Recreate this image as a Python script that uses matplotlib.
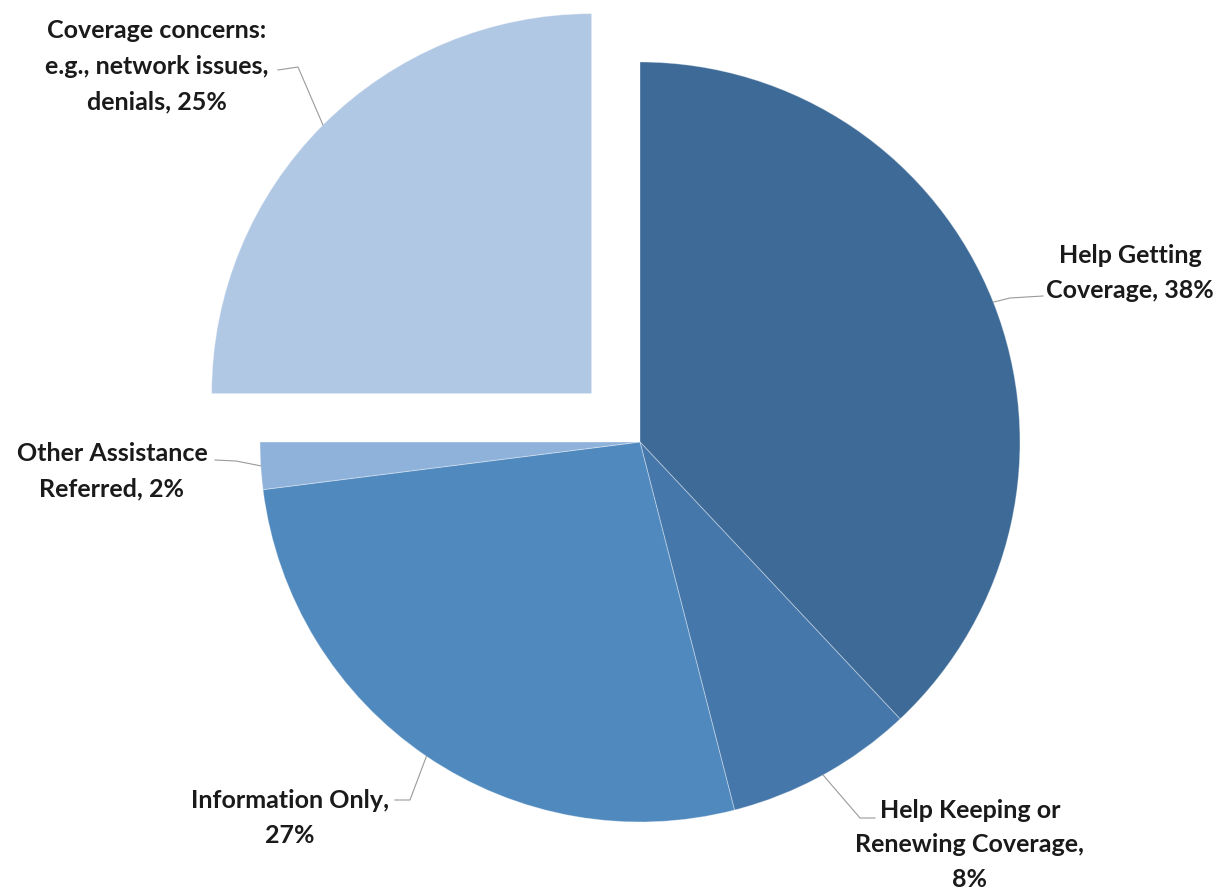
import matplotlib.pyplot as plt
import numpy as np

# data
labels = ['Help Getting\nCoverage, 38%',
          'Help Keeping or\nRenewing Coverage,\n8%',
          'Information Only,\n27%',
          'Other Assistance\nReferred, 2%',
          'Coverage concerns:\ne.g., network issues,\ndenials, 25%']
values = [38, 8, 27, 2, 25]
colors = ['#3D6A97', '#4577AA', '#4F89BE', '#8FB2DB', '#B1C8E4']
explode = [0, 0, 0, 0, 0.18]

# label layout in pixels: text centre, line end near text, elbow
txt_px = [(1130, 273), (970, 845), (290, 818), (112, 471), (157, 66)]
end_px = [(1043, 296), (875, 818), (395, 800), (215, 460), (278, 70)]
elb_px = [(1010, 298), (860, 818), (410, 800), (236, 461), (298, 67)]
spacing = [1.68, 1.58, 1.68, 1.68, 1.68]

W, H = 1217, 894
cx, cy, R = 640, 442, 380


def to_data(p):
    return ((p[0] - cx) / R, (cy - p[1]) / R)


plt.rcParams['font.family'] = ['Lato', 'DejaVu Sans']
fig = plt.figure(figsize=(W / 100, H / 100), dpi=100)
ax = fig.add_axes([0, 0, 1, 1])
wedges, _ = ax.pie(values, colors=colors, explode=explode, startangle=90,
                   counterclock=False, radius=1,
                   wedgeprops=dict(linewidth=0.7, edgecolor=(1, 1, 1, 0.35)))
ax.set_xlim(-cx / R, (W - cx) / R)
ax.set_ylim(-(H - cy) / R, cy / R)
ax.set_aspect('equal')
ax.axis('off')

for i, w in enumerate(wedges):
    ang = np.deg2rad((w.theta1 + w.theta2) / 2)
    ex = explode[i]
    px = (1 + ex) * np.cos(ang)
    py = (1 + ex) * np.sin(ang)
    e = to_data(end_px[i])
    b = to_data(elb_px[i])
    ax.plot([e[0], b[0], px], [e[1], b[1], py], color='#9a9a9a', lw=0.8)
    t = to_data(txt_px[i])
    ax.text(t[0], t[1], labels[i], ha='center', va='center', fontsize=18,
            fontweight='bold', color='#1a1a1a', linespacing=spacing[i])

fig.savefig('out.png', dpi=100)
